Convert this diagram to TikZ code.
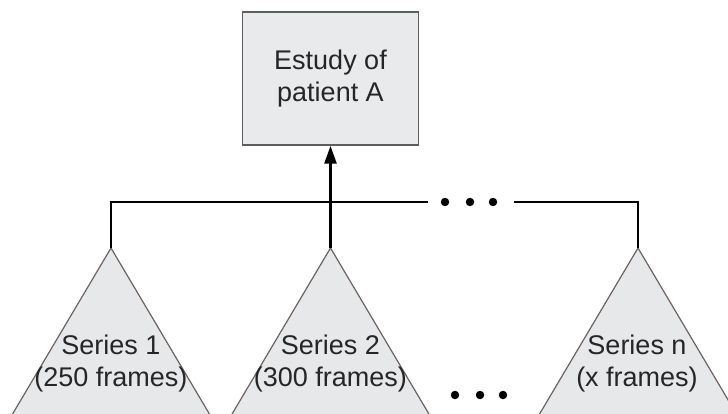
\documentclass[tikz,border=0pt]{standalone}
\usepackage{fontspec}
\setmainfont{Liberation Sans}
\usetikzlibrary{arrows.meta}
\definecolor{boxfill}{HTML}{E9EAEC}
\definecolor{boxedge}{HTML}{5E5E5E}
\definecolor{trifill}{HTML}{E7E8EA}
\definecolor{triedge}{HTML}{6B6361}
\begin{document}
\begin{tikzpicture}[x=1pt,y=-1pt,
  lbl/.style={font=\fontsize{27}{32.5}\selectfont, align=center, inner sep=0pt, text=black!85},
  conn/.style={line width=2.7pt, black},
  tri/.style={fill=trifill, draw=triedge, line width=1.2pt, line join=miter},
  dotnode/.style={circle, fill=black, inner sep=0pt, minimum size=8.5pt}]
\useasboundingbox (0,0) rectangle (728,414);
\clip (0,0) rectangle (728,414);
% study box
\node[draw=boxedge, fill=boxfill, line width=1.5pt, minimum width=176pt, minimum height=133pt, lbl] (study) at (330.5,78.5) {Estudy of\\patient A};
% triangle apexes
\coordinate (t1) at (111,248);
\coordinate (t2) at (330.5,248);
\coordinate (tn) at (638,248);
\draw[tri] (t1) -- ++(-102,172) -- ++(204,0) -- cycle;
\draw[tri] (t2) -- ++(-102,172) -- ++(204,0) -- cycle;
\draw[tri] (tn) -- ++(-102,172) -- ++(204,0) -- cycle;
% series labels
\node[lbl] (s1) at (111,363.5) {Series 1\\(250 frames)};
\node[lbl] (s2) at (330.5,363.5) {Series 2\\(300 frames)};
\node[lbl] (sn) at (637,363.5) {Series n\\(x frames)};
% connectors
\coordinate (hl) at (428,202);
\coordinate (hr) at (514,202);
\draw[conn] (t1) |- (hl);
\draw[conn] (tn) |- (hr);
\draw[conn, -{Triangle[length=18pt,width=12pt]}] (t2) -- (study.south);
% ellipsis dots
\node[dotnode] (d1) at (445,202) {};
\node[dotnode] (d2) at (470,202) {};
\node[dotnode] (d3) at (493,202) {};
\node[dotnode] (b1) at (455,395) {};
\node[dotnode] (b2) at (480,395) {};
\node[dotnode] (b3) at (503,395) {};
\end{tikzpicture}
\end{document}
